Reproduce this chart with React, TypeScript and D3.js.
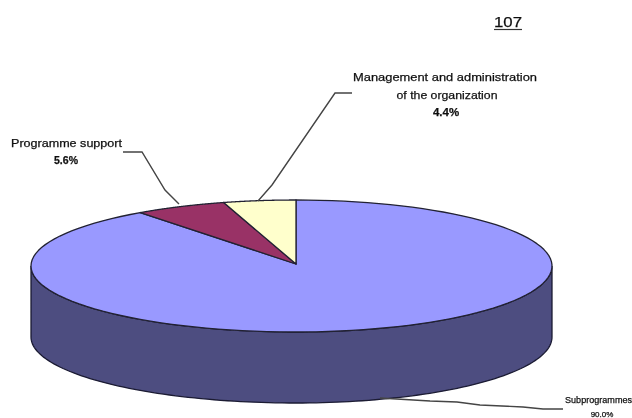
import React from "react";
import * as d3 from "d3";

const sliceNames = ["Subprogrammes", "Programme support", "Management and administration of the organization"];
const sliceValues = [90.0, 5.6, 4.4];
const sliceColors = ["#9999FF", "#993366", "#FFFFCC"];
const pageNumber = "107";

const W = 632, H = 418;
const cx = 296, cy = 266, rxL = 265, rxR = 256, ry = 66, depth = 71;
const apex = { x: 296, y: 264 };

const rim = (a: number, dy = 0): [number, number] => {
  const s = Math.sin(a);
  return [cx + (s < 0 ? rxL : rxR) * s, cy - ry * Math.cos(a) + dy];
};
const line = d3.line<[number, number]>();
const sample = (a0: number, a1: number, dy = 0) =>
  d3.range(0, 121).map((i) => rim(a0 + ((a1 - a0) * i) / 120, dy));

const arcs = d3.pie<number>().sort(null).startAngle(0).endAngle(2 * Math.PI)(sliceValues);

const wall = [
  ...sample(Math.PI / 2, (3 * Math.PI) / 2),
  ...sample((3 * Math.PI) / 2, Math.PI / 2, depth),
];

const leaders: [number, number][][] = [
  [[352, 93], [335, 93], [272, 185], [258, 201]],
  [[123, 152], [142, 152], [165, 190], [179, 204]],
  [[380, 398], [430, 401], [457, 402], [480, 405], [523, 407], [543, 409], [563, 409]],
];

const font = "'Liberation Sans', Arial, sans-serif";

export default function App() {
  return (
    <svg
      width={W}
      height={H}
      viewBox={`0 0 ${W} ${H}`}
      style={{ position: "absolute", left: 0, top: 0, background: "#fff" }}
    >
      <defs>
        <filter id="soft" x="-5%" y="-5%" width="110%" height="110%">
          <feGaussianBlur stdDeviation="0.7" />
        </filter>
      </defs>
      <g filter="url(#soft)">
        <path d={line(wall)! + "Z"} fill="#4D4D80" stroke="#1a1a33" strokeWidth={1.3} />
        {arcs.map((d, i) => (
          <path
            key={sliceNames[i]}
            d={line([[apex.x, apex.y], ...sample(d.startAngle, d.endAngle)])! + "Z"}
            fill={sliceColors[i]}
            stroke="#222233"
            strokeWidth={1.3}
            strokeLinejoin="round"
          />
        ))}
        {leaders.map((l, i) => (
          <path key={i} d={line(l)!} fill="none" stroke="#444" strokeWidth={1.4} />
        ))}
        <g fontFamily={font} fill="#111" stroke="#111" strokeWidth={0.25}>
          <text x={508} y={27} fontSize={15} textAnchor="middle" textLength={28} lengthAdjust="spacingAndGlyphs">{pageNumber}</text>
          <line x1={494} x2={522} y1={29.5} y2={29.5} stroke="#333" strokeWidth={1.2} />
          <g fontSize={11.5} textAnchor="middle">
            <text x={445} y={81} textLength={184} lengthAdjust="spacingAndGlyphs">Management and administration</text>
            <text x={447} y={99} textLength={101} lengthAdjust="spacingAndGlyphs">of the organization</text>
            <text x={446} y={116} fontWeight="bold">{`${sliceValues[2].toFixed(1)}%`}</text>
          </g>
          <g fontSize={10.5}>
            <text x={11} y={147} textLength={111} lengthAdjust="spacingAndGlyphs">Programme support</text>
            <text x={66} y={164} textAnchor="middle" fontWeight="bold">{`${sliceValues[1].toFixed(1)}%`}</text>
          </g>
          <g fontSize={9}>
            <text x={565} y={403} textLength={67} lengthAdjust="spacingAndGlyphs">{sliceNames[0]}</text>
            <text x={602} y={417} fontSize={8} textAnchor="middle">{`${sliceValues[0].toFixed(1)}%`}</text>
          </g>
        </g>
      </g>
    </svg>
  );
}
